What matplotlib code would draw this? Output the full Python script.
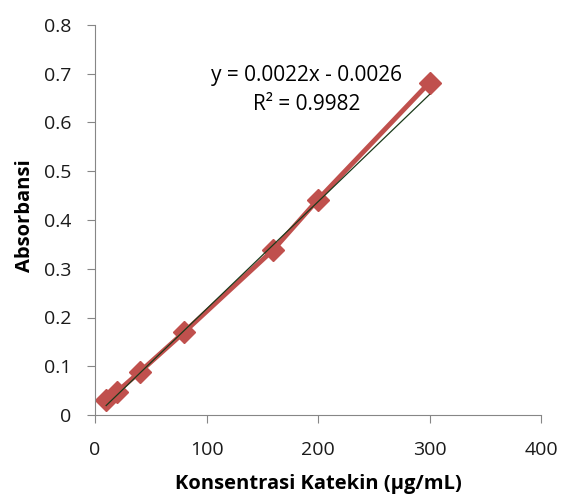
import matplotlib
matplotlib.use("Agg")
import matplotlib.pyplot as plt
import numpy as np

# concentration (ug/mL) and absorbance
konsentrasi = [10, 20, 40, 80, 160, 200, 300]
absorbansi = [0.031, 0.048, 0.088, 0.170, 0.339, 0.442, 0.682]
slope = 0.0022
intercept = -0.0026
r2 = 0.9982

plt.rcParams['font.family'] = ['Open Sans', 'DejaVu Sans']

fig = plt.figure(figsize=(5.61, 4.95), dpi=100)
ax = fig.add_axes([95/561, 80/495, 446/561, 390/495])

ax.plot(konsentrasi, absorbansi, color='#C0504D', lw=3.5, marker='D',
        markersize=11, zorder=2)
xt = np.array([konsentrasi[0], konsentrasi[-1]])
ax.plot(xt, slope*xt + intercept, color='#1a3a1a', lw=0.9, zorder=3)

ax.text(190, 0.697, 'y = 0.0022x - 0.0026', ha='center', va='center', fontsize=15)
ax.text(190, 0.636, 'R² = %.4f' % r2, ha='center', va='center', fontsize=15)

ax.set_xlim(0, 400)
ax.set_ylim(0, 0.8)
ax.set_xticks([0, 100, 200, 300, 400])
ax.set_yticks(np.arange(0, 0.81, 0.1))
ax.yaxis.set_major_formatter(matplotlib.ticker.FuncFormatter(lambda v, p: '%g' % round(v, 1)))
ax.tick_params(labelsize=14, length=6, color='#868686', labelcolor='#1a1a1a')
ax.tick_params(axis='x', pad=13)
ax.tick_params(axis='y', pad=11)
for s in ['top', 'right']:
    ax.spines[s].set_visible(False)
for s in ['left', 'bottom']:
    ax.spines[s].set_color('#868686')

ax.set_xlabel('Konsentrasi Katekin (µg/mL)', fontsize=14.5, fontweight='bold', va='center')
ax.set_ylabel('Absorbansi', fontsize=14.5, fontweight='bold', va='center')
ax.xaxis.set_label_coords(0.5, -0.178)
ax.yaxis.set_label_coords(-0.158, 0.51)

fig.savefig('out.png', dpi=100)
